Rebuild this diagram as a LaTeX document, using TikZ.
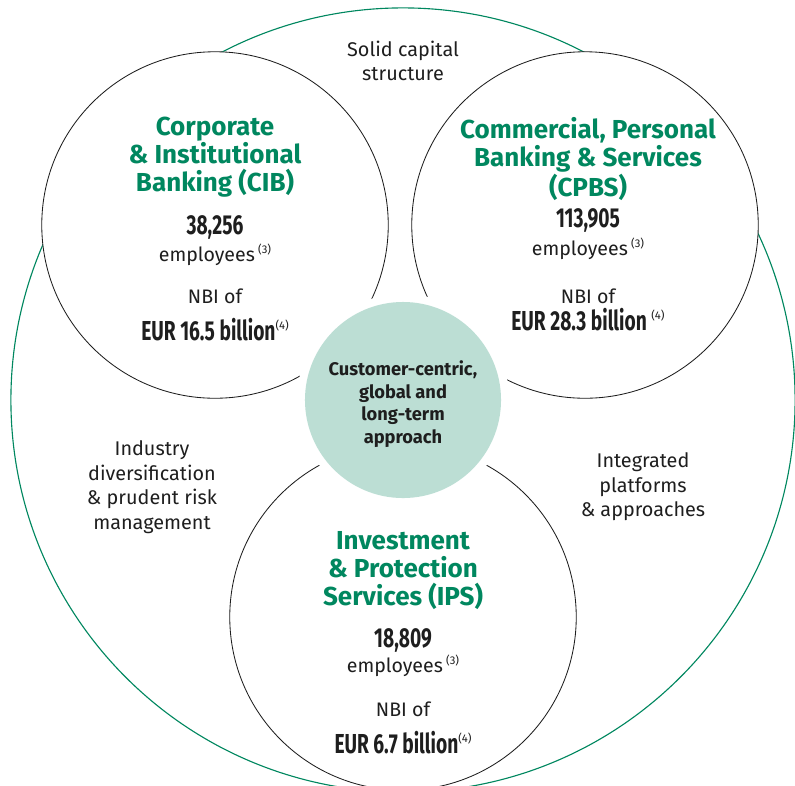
\documentclass[tikz,border=0pt]{standalone}
\usepackage{fontspec}
\setmainfont{Fira Sans}
\newfontfamily\numfont[FakeStretch=0.7]{Fira Sans}
\usepackage{xcolor}
\definecolor{bankgreen}{RGB}{0, 135, 95}
\definecolor{softteal}{RGB}{188, 222, 212}
\definecolor{ink}{RGB}{30, 30, 30}
\usetikzlibrary{positioning}
\newcommand{\fnote}[1]{\raisebox{0.75ex}{\normalfont\fontsize{8}{8}\selectfont(#1)}}

\begin{document}
\begin{tikzpicture}[
  x=0.025cm, y=-0.025cm,
  ring/.style={circle, draw=bankgreen, line width=0.8pt, minimum size=19.6cm, inner sep=0pt},
  pillar/.style={circle, draw=ink, fill=white, line width=0.6pt, minimum size=8.66cm, inner sep=0pt},
  halo/.style={circle, fill=white, minimum size=5.3cm, inner sep=0pt},
  core/.style={circle, fill=softteal, minimum size=4.9cm, inner sep=0pt},
  heading/.style={text=bankgreen, font=\fontsize{18.5}{19.9}\selectfont\bfseries, align=center},
  count/.style={text=ink, font=\numfont\fontsize{19.5}{20}\selectfont\bfseries},
  plain/.style={text=ink, font=\fontsize{13.9}{16}\selectfont, align=center},
  amount/.style={text=ink, font=\numfont\fontsize{19.5}{20}\selectfont\bfseries},
  side/.style={text=ink, font=\fontsize{14.1}{17.4}\selectfont, align=center},
  corelabel/.style={text=ink, font=\fontsize{13}{16.2}\selectfont\bfseries, align=center}
]
\useasboundingbox (0,0) rectangle (795,785);

% outer ring and the three business circles
\node[ring] (outer) at (403,400) {};
\node[pillar] (cib) at (215,225) {};
\node[pillar] (cpbs) at (585,225) {};
\node[pillar] (ips) at (403,617) {};
\node[halo] (gap) at (403,400) {};
\node[core] (center) at (403,400) {};

\node[corelabel] (centertxt) at (403,404) {Customer-centric,\\global and\\long-term\\approach};

% CIB
\node[heading] (cibname) at (215,157) {Corporate\\\& Institutional\\Banking (CIB)};
\node[count] (cibstaff) at (215,227) {38,256};
\node[plain] (cibemp) at (215,255) {employees\,\fnote{3}};
\node[plain] (cibnbi) at (215,296) {NBI of};
\node[amount] (cibeur) at (215,330) {EUR 16.5 billion\fnote{4}};

% CPBS
\node[heading] (cpbsname) at (588,159) {Commercial, Personal\\Banking \& Services\\(CPBS)};
\node[count] (cpbsstaff) at (588,220) {113,905};
\node[plain] (cpbsemp) at (588,249) {employees\,\fnote{3}};
\node[plain] (cpbsnbi) at (588,296) {NBI of};
\node[amount] (cpbseur) at (588,320) {EUR 28.3 billion\,\fnote{4}};

% IPS
\node[heading] (ipsname) at (403,571) {Investment\\\& Protection\\Services (IPS)};
\node[count] (ipsstaff) at (403,640) {18,809};
\node[plain] (ipsemp) at (403,666) {employees\,\fnote{3}};
\node[plain] (ipsnbi) at (403,709) {NBI of};
\node[amount] (ipseur) at (403,743) {EUR 6.7 billion\fnote{4}};

% strengths between the circles
\node[side] (capital) at (403,61) {Solid capital\\structure};
\node[side] (risk) at (152,487) {Industry\\diversification\\\& prudent risk\\management};
\node[side] (platforms) at (643,487) {Integrated\\platforms\\\& approaches};
\end{tikzpicture}
\end{document}
